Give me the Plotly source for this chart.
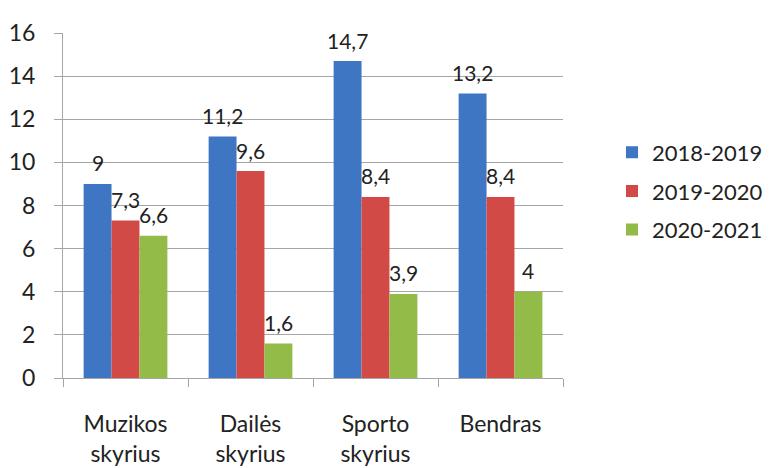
import plotly.graph_objects as go

categories = ["Muzikos<br>skyrius", "Dailės<br>skyrius", "Sporto<br>skyrius", "Bendras"]
series_names = ["2018-2019", "2019-2020", "2020-2021"]
v2018 = [9, 11.2, 14.7, 13.2]
v2019 = [7.3, 9.6, 8.4, 8.4]
v2020 = [6.6, 1.6, 3.9, 4]
colors = ["#3f76c4", "#d24a46", "#93bb48"]

def fmt(v):
    return ("%g" % v).replace(".", ",")

FONT = "Lato"
W, H = 772, 468
ML, MR, MT, MB = 55, 217, 25, 98
BARGAP = 0.33
fig = go.Figure()
all_vals = [v2018, v2019, v2020]
for name, vals, col in zip(series_names, all_vals, colors):
    fig.add_trace(go.Bar(
        x=categories, y=vals, name=name, legendgroup=name,
        marker=dict(color=col, line=dict(width=0)),
        hoverinfo="x+y",
    ))

# value labels above bars (annotations positioned through the axes)
plot_w = W - ML - MR
cat_w = plot_w / len(categories)
bar_w = cat_w * (1 - BARGAP) / len(series_names)
for i, vals in enumerate(all_vals):
    for cat, v in zip(categories, vals):
        fig.add_annotation(
            x=cat, y=v, xref="x", yref="y", text=fmt(v),
            showarrow=False, yanchor="middle",
            xshift=(i - 1) * bar_w, yshift=21,
            font=dict(size=21, family=FONT, color="#222222"),
        )

fig.update_layout(
    width=W, height=H,
    margin=dict(l=ML, r=MR, t=MT, b=MB, autoexpand=False),
    paper_bgcolor="white", plot_bgcolor="white",
    barmode="group", bargap=BARGAP, bargroupgap=0.0,
    font=dict(family=FONT, size=21, color="#222222"),
    showlegend=True,
    legend=dict(x=1.098, y=0.542, xanchor="left", yanchor="middle",
                font=dict(size=22, family=FONT, color="#222222"),
                itemwidth=30, traceorder="grouped", tracegroupgap=7),
)
fig.update_yaxes(range=[0, 16], dtick=2, showgrid=True, gridcolor="#a6a6a6", gridwidth=1,
                 showline=True, linecolor="#a6a6a6", linewidth=1,
                 ticks="outside", ticklen=8, tickcolor="#a6a6a6",
                 tickfont=dict(size=23, family=FONT, color="#222222"),
                 ticklabelstandoff=14, zeroline=False, automargin=False)
fig.update_xaxes(showline=True, linecolor="#a6a6a6", linewidth=1,
                 ticks="outside", ticklen=8, tickcolor="#a6a6a6",
                 tickson="boundaries", ticklabelstandoff=25, automargin=False,
                 tickfont=dict(size=23, family=FONT, color="#222222"))

fig.write_html("out.html")
